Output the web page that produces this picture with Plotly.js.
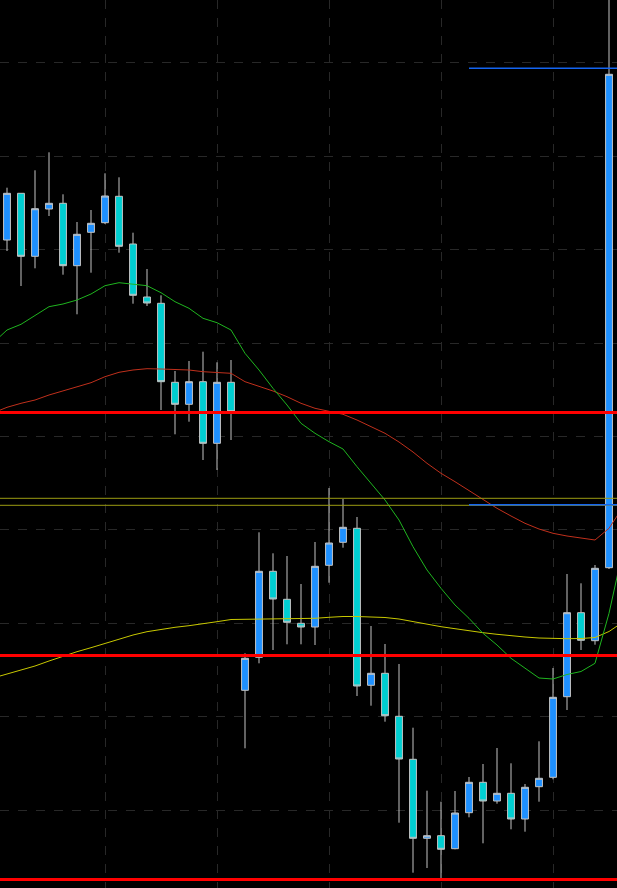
<!DOCTYPE html>
<html>
<head>
<meta charset="utf-8">
<script src="https://cdn.plot.ly/plotly-3.0.1.min.js"></script>
<style>
  html, body { margin: 0; padding: 0; background: #000; }
  #chart { width: 617px; height: 888px; }
</style>
</head>
<body>
<div id="chart"></div>
<script>
// Candle index (bar number) and OHLC prices (points)
const bars = [0,1,2,3,4,5,6,7,8,9,10,11,12,13,14,15,16,17,18,19,20,21,22,23,24,25,26,27,28,29,30,31,32,33,34,35,36,37,38,39,40,41,42,43];
const openP  = [648,694.7,631.7,679,684.7,622.3,655.7,665.3,691.7,644,591,584.7,505.7,483.7,506.3,444.7,505.7,197.7,230.7,316.7,288.7,264.7,261,322.7,345.7,359.7,202.7,214.7,171.7,128.7,49.7,52.3,39.3,75.3,105.7,87,94.7,69,101.3,110.7,191.3,275.3,247.3,320.3];
const highP  = [700.3,694.7,717.7,735.7,693.7,666,678,714.7,710.7,655.3,619,592.7,517,527,536.3,525.7,528,234.7,355.7,334.7,332,304,346,400,389,371,262,244,224,160.3,97.3,86.3,97,111,124,140,124.7,104,146.7,220,314,304.7,323,900];
const lowP   = [637,602,619.7,672,613.3,573.7,615.3,664,635.3,584.3,582,478,453.7,466.3,428,418,448,139.7,224.7,238,243.7,243.7,243,305.3,340.3,192,182.3,166.3,65.3,15.3,20,9.3,38.7,70.7,44.7,84.3,58.7,56.3,86.3,108.7,178,238,243.3,319];
const closeP = [694.7,631.7,679.3,684.7,622.3,653.7,664.7,692,641.7,592.7,585,506.3,483.7,506.3,444.7,505.7,476.3,229.7,316.7,289,265.7,261,321.7,345,360.7,202,214.7,172.3,129,49.7,52.3,38.7,75,105.7,87,94.7,69,100.7,109.7,190.7,275.3,247.7,319.7,813.7];

// Moving averages (read per bar, including one bar before and after the visible window)
const maBars = [-1,0,1,2,3,4,5,6,7,8,9,10,11,12,13,14,15,16,17,18,19,20,21,22,23,24,25,26,27,28,29,30,31,32,33,34,35,36,37,38,39,40,41,42,43,44];
const maFast = [545,558,563.7,572.3,581.3,584,588,594,602.3,605.3,604,602.3,595.3,586.3,579.7,569.7,565.3,558,534.7,518,499.7,483,464.7,454.7,446.3,439,421.3,404.7,388,368,341.3,318,299.7,283,269.7,254.7,243,229.7,219.7,210,209,213.5,216.5,224.7,274.7,338];
const maMid  = [475,480.7,484.7,488,493,497.3,501.3,505.3,511.3,515.7,518,519.3,519,518.3,518,516.3,515.7,514.7,506.3,502,497,491.3,484.7,479.7,477,473.7,468,461.3,454.7,446,436,424.7,414.7,406.3,397.3,388,379.7,372,364.7,359,354.7,352,349.7,348,359.7,381];
const maSlow = [210,214,218,222,227,232,236.3,240.3,244.7,249,253,256.3,258.7,260.7,262.3,264,266.3,268.5,268.7,268.7,268.7,268.7,269,269.7,270.7,271.5,271.5,271,270.5,269,266.3,263.7,261.3,259.3,257,255.3,253.7,252,251,250,249.3,249.3,249.5,250.5,256.5,266];

// Horizontal levels
const redLevels = [475.5, 232.5, 8.5];
const olivLevels = [389.7, 382.7];
const blueLevels = [819.7, 383.3];
const blueStartBar = 33;

const traces = [
  {
    type: 'candlestick',
    x: bars, open: openP, high: highP, low: lowP, close: closeP,
    increasing: { fillcolor: '#1e90ff', line: { color: '#c4c4c4', width: 1 } },
    decreasing: { fillcolor: '#00ced1', line: { color: '#c4c4c4', width: 1 } },
    whiskerwidth: 0,
    hoverinfo: 'skip',
    showlegend: false
  },
  { type: 'scatter', mode: 'lines', x: maBars, y: maSlow, line: { color: '#c8c800', width: 1 }, hoverinfo: 'skip', showlegend: false },
  { type: 'scatter', mode: 'lines', x: maBars, y: maMid, line: { color: '#c0301c', width: 1 }, hoverinfo: 'skip', showlegend: false },
  { type: 'scatter', mode: 'lines', x: maBars, y: maFast, line: { color: '#1fb51f', width: 1 }, hoverinfo: 'skip', showlegend: false }
];

const xEnd = 43.571;
const shapes = [];
olivLevels.forEach(v => shapes.push({ type: 'line', xref: 'paper', x0: 0, x1: 1, yref: 'y', y0: v, y1: v, line: { color: '#9c9c12', width: 1 }, layer: 'above' }));
blueLevels.forEach(v => shapes.push({ type: 'line', xref: 'x', x0: blueStartBar, x1: xEnd, yref: 'y', y0: v, y1: v, line: { color: '#1464f0', width: 1.5 }, layer: 'above' }));
redLevels.forEach(v => shapes.push({ type: 'line', xref: 'paper', x0: 0, x1: 1, yref: 'y', y0: v, y1: v, line: { color: '#ff0000', width: 3 }, layer: 'above' }));

const layout = {
  width: 617, height: 888,
  margin: { l: 0, r: 0, t: 0, b: 0, pad: 0 },
  paper_bgcolor: '#000000', plot_bgcolor: '#000000',
  showlegend: false,
  xaxis: {
    range: [-0.5, xEnd], showticklabels: false, zeroline: false, showline: false,
    rangeslider: { visible: false },
    showgrid: true, gridcolor: '#282828', griddash: 'dash', gridwidth: 1,
    tickmode: 'linear', tick0: 7, dtick: 8, ticks: ''
  },
  yaxis: {
    range: [0, 888], showticklabels: false, zeroline: false, showline: false,
    showgrid: true, gridcolor: '#282828', griddash: 'dash', gridwidth: 1,
    tickmode: 'linear', tick0: 78, dtick: 93.4, ticks: ''
  },
  shapes: shapes
};

Plotly.newPlot('chart', traces, layout, { staticPlot: true, displayModeBar: false });
</script>
</body>
</html>
